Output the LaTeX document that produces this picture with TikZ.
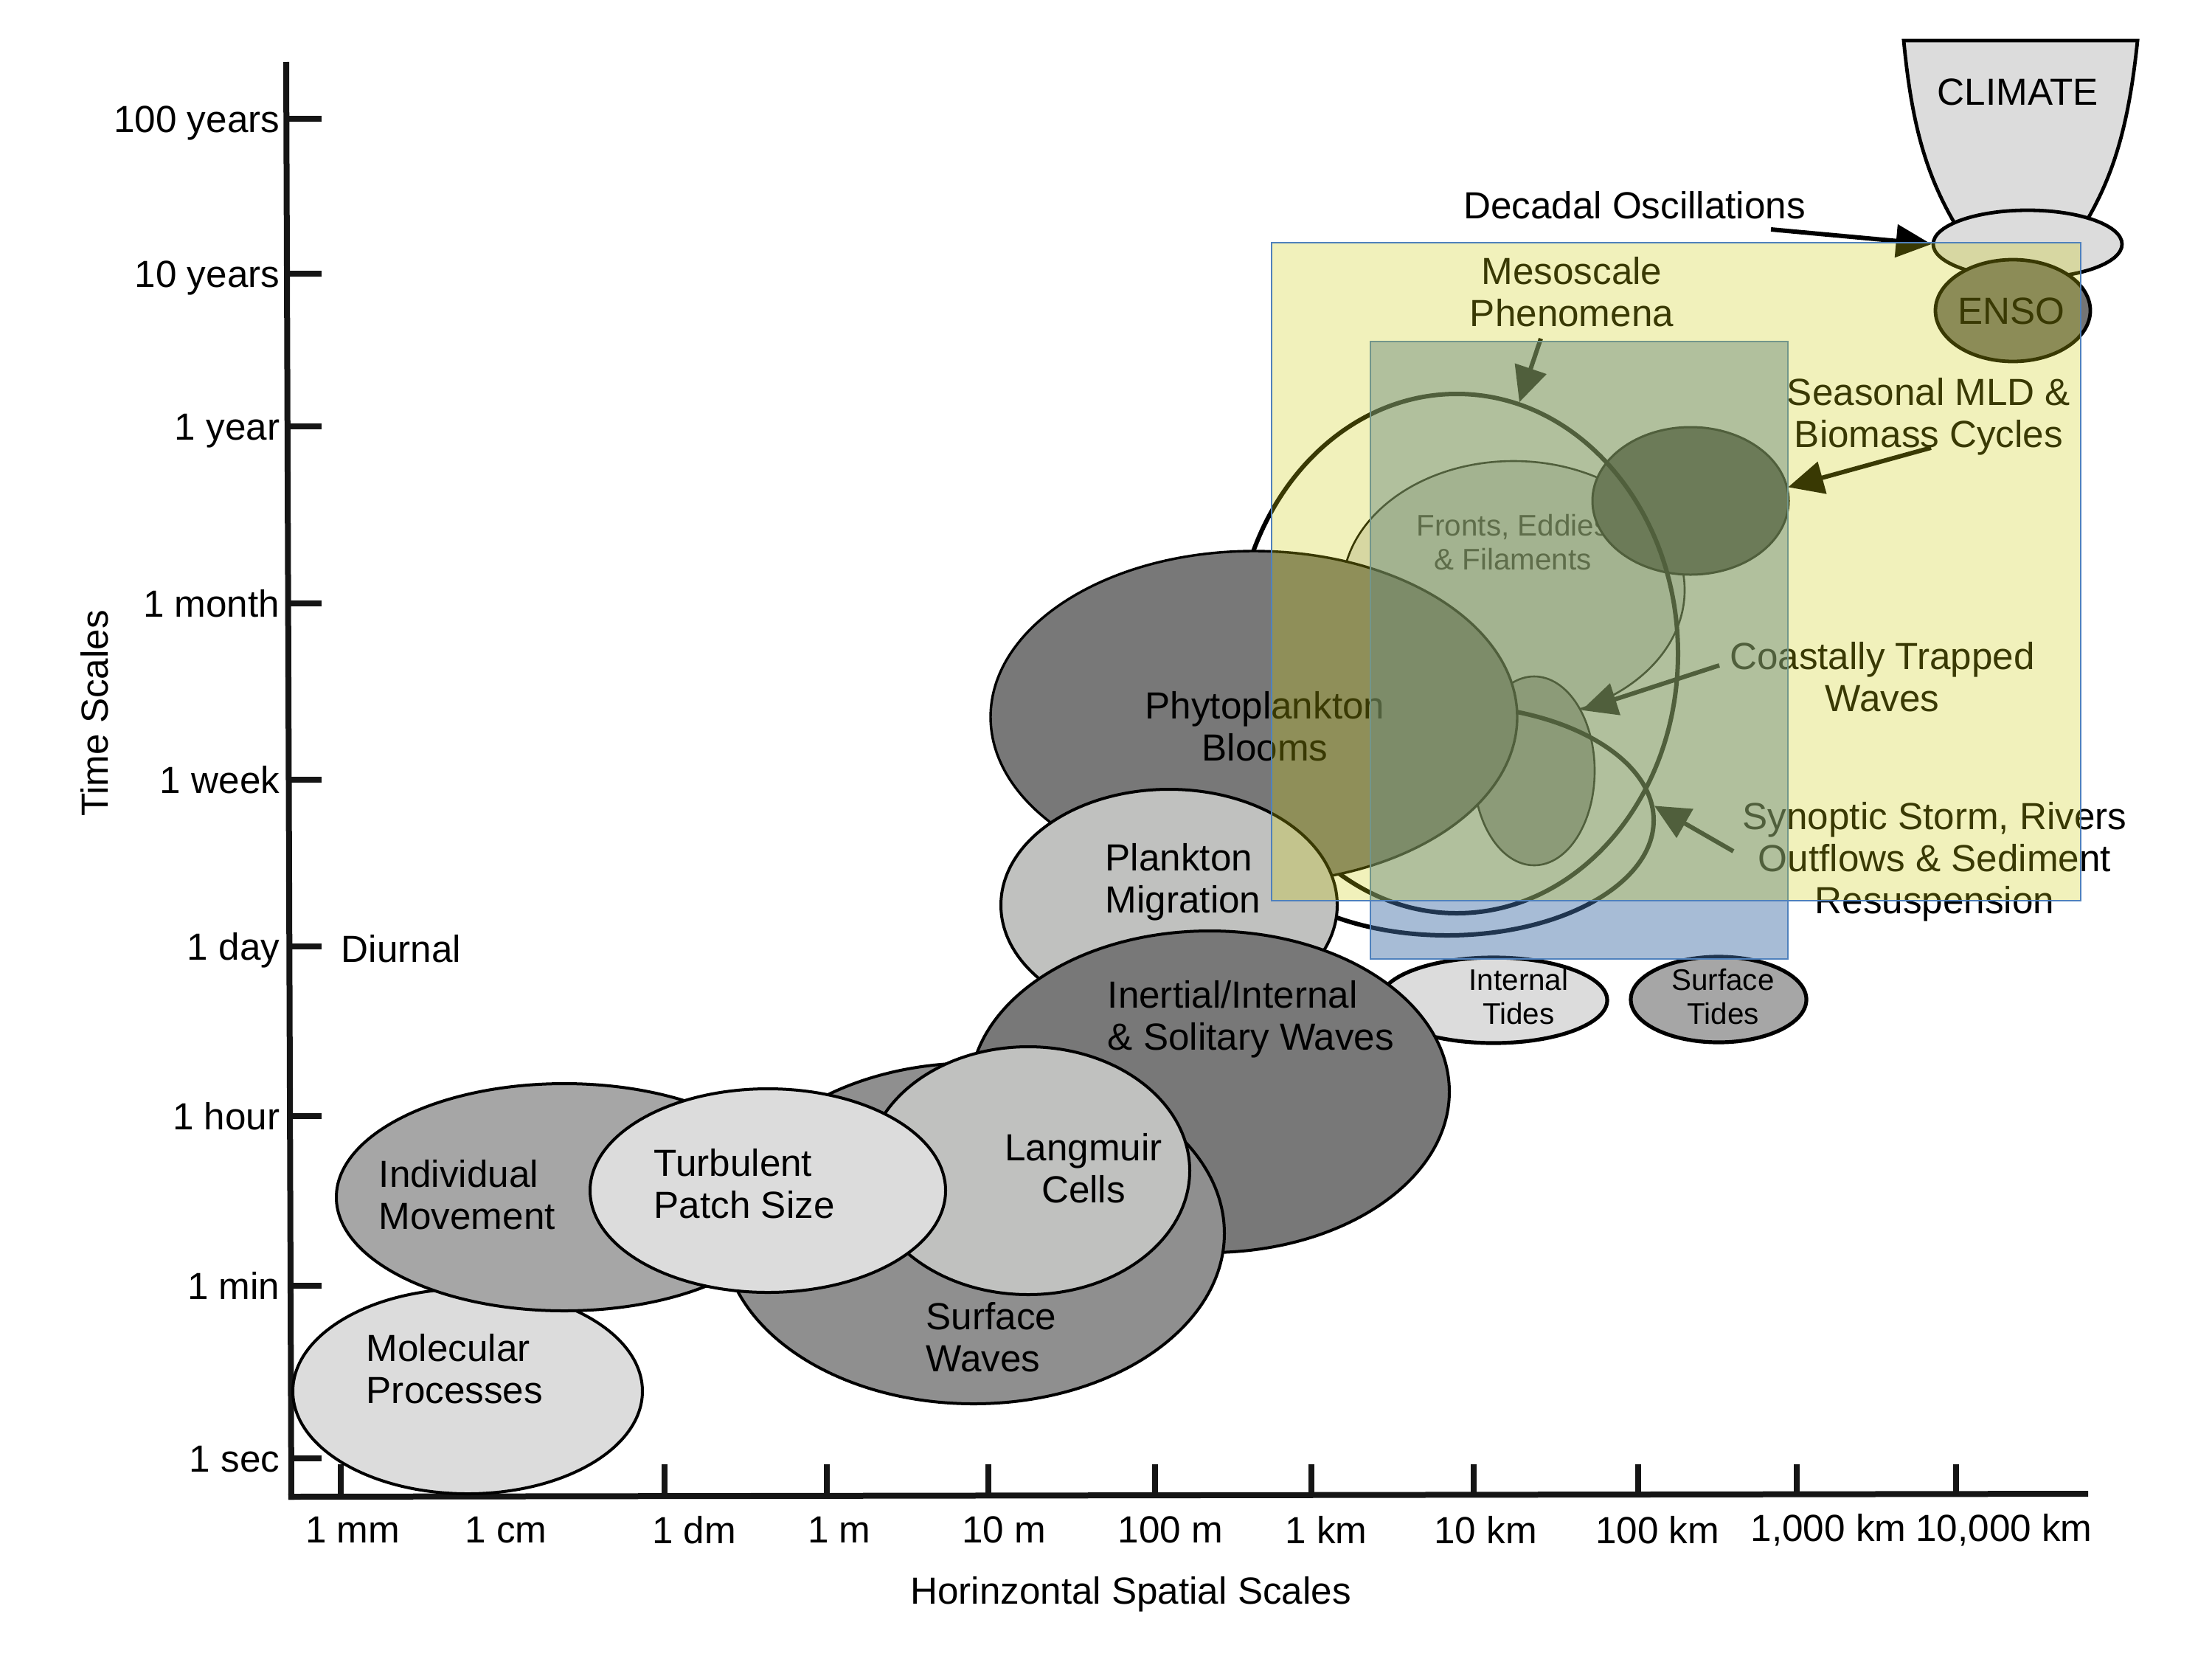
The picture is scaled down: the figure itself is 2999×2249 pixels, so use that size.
\documentclass[tikz,border=0pt]{standalone}
\usepackage{fontspec}
\setmainfont{Liberation Sans}
\usetikzlibrary{shapes.geometric,arrows.meta}
\definecolor{gA}{HTML}{DCDCDC}
\definecolor{gB}{HTML}{A6A6A6}
\definecolor{gC}{HTML}{787878}
\definecolor{gD}{HTML}{8F8F8F}
\definecolor{gE}{HTML}{C0C1BF}
\definecolor{gF}{HTML}{4A4A4A}
\definecolor{gG}{HTML}{A0A0A0}
\definecolor{gH}{HTML}{747474}
\definecolor{ovblue}{RGB}{68,113,168}
\definecolor{ovyellow}{RGB}{205,205,12}
\definecolor{rectline}{HTML}{4F81BD}
\definecolor{axisblack}{HTML}{151515}
\begin{document}
\begin{tikzpicture}[x=0.25pt,y=-0.25pt,
  txt/.style={font=\fontsize{12.8}{14.3}\selectfont, inner sep=0pt},
  smalltxt/.style={font=\fontsize{10.1}{11.5}\selectfont, inner sep=0pt},
  ell/.style={ellipse, draw=black, line width=1pt, inner sep=0pt},
  thinell/.style={ellipse, draw=black, line width=0.65pt, inner sep=0pt},
  bigring/.style={ellipse, draw=black, line width=1.5pt, inner sep=0pt},
  axisline/.style={line width=2pt, draw=axisblack},
  tickline/.style={line width=2pt, draw=axisblack},
  arr/.style={line width=1.5pt, draw=black, -{Triangle[length=12pt,width=11pt]}},
]
\useasboundingbox (0,0) rectangle (2999,2249);
\fill[white] (0,0) rectangle (2999,2249);

% axes
\draw[axisline] (388,84) -- (395,2033);
\draw[axisline] (391,2029) -- (2831,2025);
\foreach \yy in {161,371,578,818,1057,1283,1513,1743,1977}
  \draw[tickline] (392,\yy) -- (436,\yy);
\foreach \xx in {462,901,1121,1340,1566,1778,1998,2221,2436,2652}
  \draw[tickline] (\xx,2029) -- (\xx,1985);

\node[txt, anchor=base east] (ly1) at (380,179) {100 years};
\node[txt, anchor=base east] (ly2) at (380,389) {10 years};
\node[txt, anchor=base east] (ly3) at (380,596) {1 year};
\node[txt, anchor=base east] (ly4) at (380,836) {1 month};
\node[txt, anchor=base east] (ly5) at (380,1075) {1 week};
\node[txt, anchor=base east] (ly6) at (380,1301) {1 day};
\node[txt, anchor=base east] (ly7) at (380,1531) {1 hour};
\node[txt, anchor=base east] (ly8) at (380,1761) {1 min};
\node[txt, anchor=base east] (ly9) at (380,1995) {1 sec};
\node[txt, anchor=base west] (ldiur) at (462,1304) {Diurnal};
\node[txt, rotate=90] (lyt) at (128,967) {Time Scales};

\node[txt] (lx1) at (478,2074) {1 mm};
\node[txt] (lx2) at (686,2074) {1 cm};
\node[txt] (lx3) at (941,2074) {1 dm};
\node[txt] (lx4) at (1138,2074) {1 m};
\node[txt] (lx5) at (1361,2074) {10 m};
\node[txt] (lx6) at (1587,2074) {100 m};
\node[txt] (lx7) at (1798,2074) {1 km};
\node[txt] (lx8) at (2014,2074) {10 km};
\node[txt] (lx9) at (2247,2074) {100 km};
\node[txt] (lx10) at (2479,2074) {1,000 km};
\node[txt] (lx11) at (2717,2074) {10,000 km};
\node[txt] (lxt) at (1533,2161) {Horinzontal Spatial Scales};

% mesoscale group
\node[thinell, fill=gA, minimum width=116pt, minimum height=87.5pt] (fronts) at (2052,800) {};
\node[smalltxt, align=center, text=black!85] (tfronts) at (2051,735) {Fronts, Eddies\\\& Filaments};
\node[thinell, fill=gF, line width=0.75pt, minimum width=66.5pt, minimum height=50pt] (seasonal) at (2292,679) {};
\node[thinell, fill=gG, minimum width=41pt, minimum height=64pt] (coastal) at (2080,1045) {};
\node[bigring, minimum width=150pt, minimum height=176pt] (meso) at (1975,886) {};
\node[bigring, minimum width=140pt, minimum height=78pt] (synop) at (1962,1112) {};

\node[ell, fill=gC, line width=0.85pt, minimum width=178.5pt, minimum height=112.5pt] (phyto) at (1700,972) {};
\node[txt, align=center] (tphyto) at (1715,985) {Phytoplankton\\Blooms};
\node[ell, fill=gE, minimum width=114pt, minimum height=78.5pt] (plmig) at (1585,1227) {};
\node[txt, anchor=west, align=left] (tplmig) at (1498,1196) {Plankton\\Migration};

\node[ell, fill=gA, line width=1.3pt, minimum width=77pt, minimum height=29pt] (inttide) at (2025,1356) {};
\node[smalltxt, align=center] (tinttide) at (2059,1351) {Internal\\Tides};
\node[ell, fill=gB, line width=1.3pt, minimum width=59.5pt, minimum height=29pt] (surftide) at (2330,1355) {};
\node[smalltxt, align=center] (tsurftide) at (2336,1351) {Surface\\Tides};

\node[ell, fill=gC, minimum width=162.5pt, minimum height=109pt] (inert) at (1640,1480) {};
\node[txt, anchor=west, align=left] (tinert) at (1501,1382) {Inertial/Internal\\\& Solitary Waves};
\node[ell, fill=gD, minimum width=170pt, minimum height=115.5pt] (surfw) at (1320,1672) {};
\node[txt, anchor=west, align=left] (tsurfw) at (1255,1813) {Surface\\Waves};
\node[ell, fill=gE, minimum width=109.5pt, minimum height=84pt] (lang) at (1394,1587) {};
\node[txt, align=center] (tlang) at (1469,1584) {Langmuir\\Cells};
\node[ell, fill=gA, minimum width=118.5pt, minimum height=69.5pt] (mol) at (634,1886) {};
\node[txt, anchor=west, align=left] (tmol) at (496,1856) {Molecular\\Processes};
\node[ell, fill=gB, minimum width=154.5pt, minimum height=77pt] (indiv) at (765,1623) {};
\node[txt, anchor=west, align=left] (tindiv) at (513,1620) {Individual\\Movement};
\node[ell, fill=gA, minimum width=120.5pt, minimum height=69pt] (turb) at (1041,1614) {};
\node[txt, anchor=west, align=left] (tturb) at (886,1605) {Turbulent\\Patch Size};

% climate
\draw[line width=1.2pt, fill=gA] (2581,55) -- (2898,55) .. controls (2885,180) and (2862,250) .. (2815,322) -- (2662,322) .. controls (2612,245) and (2592,170) .. (2581,55) -- cycle;
\node[txt] (tclim) at (2736,125) {CLIMATE};
\node[ell, fill=gA, line width=1.2pt, minimum width=64pt, minimum height=23pt] (decadal) at (2749,331) {};
\node[ell, fill=gH, line width=1.2pt, minimum width=52.5pt, minimum height=34.5pt] (enso) at (2729,421) {};
\node[txt] (tenso) at (2727,422) {ENSO};

% labels and arrows
\node[txt] (tdec) at (2216,278) {Decadal Oscillations};
\node[txt, align=center] (tmeso) at (2131,396) {Mesoscale\\Phenomena};
\node[txt, align=center] (tseas) at (2615,565) {Seasonal MLD \&\\Biomass Cycles};
\node[txt, align=center] (tcoast) at (2552,918) {Coastally Trapped\\Waves};
\node[txt, align=center] (tsyn) at (2623,1168) {Synoptic Storm, Rivers\\Outflows \& Sediment\\Resuspension};

\coordinate (decS) at (2401,311);
\coordinate (mesS) at (2089,459);
\coordinate (seaS) at (2618,607);
\coordinate (coaS) at (2331,902);
\coordinate (synS) at (2350,1154);
\draw[arr] (decS) -- (decadal.west);
\draw[arr] (mesS) -- (meso.76);
\draw[arr] (seaS) -- (seasonal.8);
\draw[arr] (coaS) -- (coastal.52);
\draw[arr] (synS) -- (synop.4);

% overlays
\path[fill=ovblue, fill opacity=0.47, draw=rectline, line width=0.5pt] (1858,463) rectangle (2424,1300);
\path[fill=ovyellow, fill opacity=0.28, draw=rectline, line width=0.5pt] (1724,329) rectangle (2821,1221);
\end{tikzpicture}
\end{document}
